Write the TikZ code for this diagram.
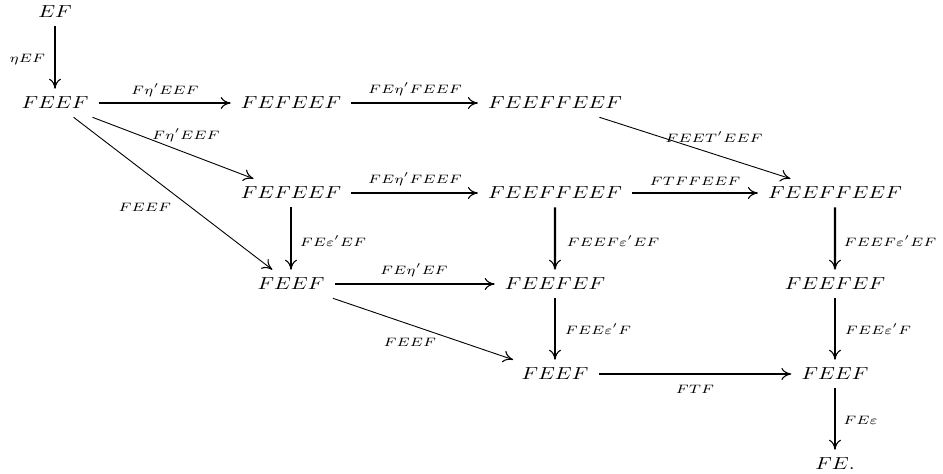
\documentclass[tikz,border=0pt]{standalone}
\usetikzlibrary{arrows.meta}
\begin{document}
\begin{tikzpicture}[x=1pt,y=-1pt,
  ob/.style={inner xsep=4.6pt, inner ysep=4.6pt, xscale=2.12, yscale=1.74},
  lb/.style={inner sep=0pt, anchor=base, xscale=2.12, yscale=1.74},
  tip/.style={-{Computer Modern Rightarrow[length=10pt,width=12pt,line width=1.1pt]}},
  heavy/.style={tip, line width=2.2pt},
  light/.style={tip, line width=0.9pt}]
\useasboundingbox (0,0) rectangle (943,474);
% objects
\node[ob] (ef)   at (55,12)  {$EF$};
\node[ob] (a1)   at (55,103) {$FEEF$};
\node[ob] (b1)   at (291,103) {$FEFEEF$};
\node[ob] (c1)   at (555,103) {$FEEFFEEF$};
\node[ob] (b2)   at (291,193) {$FEFEEF$};
\node[ob] (c2)   at (555,193) {$FEEFFEEF$};
\node[ob] (d2)   at (835,193) {$FEEFFEEF$};
\node[ob] (b3)   at (291,284) {$FEEF$};
\node[ob] (c3)   at (555,284) {$FEEFEF$};
\node[ob] (d3)   at (835,284) {$FEEFEF$};
\node[ob] (c4)   at (555,374) {$FEEF$};
\node[ob] (d4)   at (835,374) {$FEEF$};
\node[ob] (d5)   at (835,464) {$FE.$};
% arrows
\draw[heavy] (ef) -- (a1) node[lb] at (27.5,62) {$\scriptstyle \eta EF$};
\draw[heavy] (a1) -- (b1) node[lb] at (165,94) {$\scriptstyle F\eta' EEF$};
\draw[heavy] (b1) -- (c1) node[lb] at (415,93) {$\scriptstyle FE\eta' FEEF$};
\draw[light] (c1) -- (d2) node[lb] at (714,142) {$\scriptstyle FEET' EEF$};
\draw[light] (a1) -- (b2) node[lb] at (186,139) {$\scriptstyle F\eta' EEF$};
\draw[light] (a1) -- (b3) node[lb] at (145,211) {$\scriptstyle FEEF$};
\draw[heavy] (b2) -- (c2) node[lb] at (415,183) {$\scriptstyle FE\eta' FEEF$};
\draw[heavy] (c2) -- (d2) node[lb] at (695,185) {$\scriptstyle FTFFEEF$};
\draw[heavy] (b2) -- (b3) node[lb] at (333,246) {$\scriptstyle FE\varepsilon' EF$};
\draw[heavy] (c2) -- (c3) node[lb] at (613,246) {$\scriptstyle FEEF\varepsilon' EF$};
\draw[heavy] (d2) -- (d3) node[lb] at (890,246) {$\scriptstyle FEEF\varepsilon' EF$};
\draw[heavy] (b3) -- (c3) node[lb] at (414,274) {$\scriptstyle FE\eta' EF$};
\draw[light] (b3) -- (c4) node[lb] at (410,346) {$\scriptstyle FEEF$};
\draw[heavy] (c3) -- (c4) node[lb] at (598,334) {$\scriptstyle FEE\varepsilon' F$};
\draw[heavy] (d3) -- (d4) node[lb] at (878,334) {$\scriptstyle FEE\varepsilon' F$};
\draw[heavy] (c4) -- (d4) node[lb] at (695,393) {$\scriptstyle FTF$};
\draw[heavy] (d4) -- (d5) node[lb] at (860.5,424) {$\scriptstyle FE\varepsilon$};
\end{tikzpicture}
\end{document}
